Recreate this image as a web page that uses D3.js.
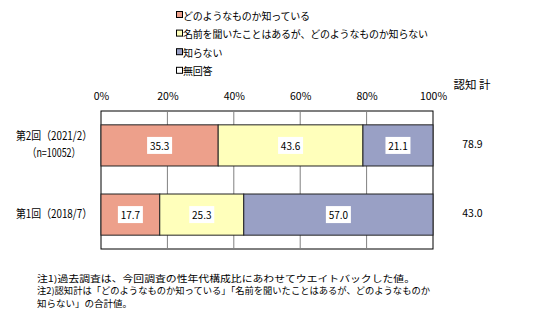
<!DOCTYPE html>
<html><head><meta charset="utf-8">
<script src="https://cdn.jsdelivr.net/npm/d3@7"></script>
<style>body{margin:0;background:#fff}text{font-family:"Noto Sans CJK JP",sans-serif}</style>
</head><body>
<svg id="c" width="542" height="328"></svg>
<script>
const categories = ["第2回（2021/2）|（n=10052）", "第1回（2018/7）"];
const seriesNames = ["どのようなものか知っている", "名前を聞いたことはあるが、どのようなものか知らない", "知らない", "無回答"];
const seriesColors = ["#eda08b", "#ffffbb", "#99a0c5", "#ffffff"];
const knowsWell = [35.3, 17.7];
const heardOnly = [43.6, 25.3];
const dontKnow = [21.1, 57.0];
const noAnswer = [0, 0];
const totals = ["78.9", "43.0"];
const tickVals = [0, 20, 40, 60, 80, 100];
const notes = ["注1)過去調査は、今回調査の性年代構成比にあわせてウエイトバックした値。",
  "注2)認知計は「どのようなものか知っている」「名前を聞いたことはあるが、どのようなものか",
  "知らない」の合計値。"];

const svg = d3.select("#c");
const pL = 101, pR = 433, pT = 111, pB = 249;
const x = d3.scaleLinear().domain([0, 100]).range([pL, pR]);
const y = d3.scaleBand().domain(categories).range([pT, pB]).paddingInner(0.405).paddingOuter(0.2);

// legend
seriesNames.forEach((s, i) => {
  const ly = 15 + i * 18.6;
  svg.append("rect").attr("x", 176.5).attr("y", ly - 3.5).attr("width", 6).attr("height", 6)
    .attr("fill", seriesColors[i]).attr("stroke", "#000").attr("stroke-width", 1);
  svg.append("text").attr("x", 183).attr("y", ly).attr("dominant-baseline", "central")
    .attr("font-size", 10).attr("letter-spacing", -0.2).text(s);
});

// plot border & grid
svg.append("rect").attr("x", pL).attr("y", pT).attr("width", pR - pL).attr("height", pB - pT)
  .attr("fill", "none").attr("stroke", "#000");
svg.selectAll(".grid").data(tickVals.slice(1, -1)).enter().append("line")
  .attr("x1", d => x(d)).attr("x2", d => x(d)).attr("y1", pT).attr("y2", pB)
  .attr("stroke", "#808080");

// axis tick labels
const ax = d3.axisTop(x).tickValues(tickVals).tickFormat(d => d + "%").tickSize(0);
const g = svg.append("g").attr("transform", `translate(0,${pT - 8})`).call(ax);
g.select(".domain").remove();
g.selectAll("text").attr("font-size", 10.5).attr("fill", "#000").attr("font-family", '"Noto Sans CJK JP",sans-serif');

// bars
const series = [knowsWell, heardOnly, dontKnow, noAnswer];
categories.forEach((c, ci) => {
  let acc = 0;
  series.forEach((arr, si) => {
    const v = arr[ci];
    if (v <= 0) return;
    const x0 = x(acc), x1 = x(acc + v);
    svg.append("rect").attr("x", x0).attr("y", y(c)).attr("width", x1 - x0).attr("height", y.bandwidth())
      .attr("fill", seriesColors[si]).attr("stroke", "#222").attr("stroke-width", 1);
    const cx = (x0 + x1) / 2, cy = y(c) + y.bandwidth() / 2;
    svg.append("rect").attr("x", cx - 12.5).attr("y", cy - 8.5).attr("width", 25).attr("height", 17).attr("fill", "#fff");
    svg.append("text").attr("x", cx).attr("y", cy).attr("text-anchor", "middle").attr("dominant-baseline", "central")
      .attr("font-size", 10).text(v.toFixed(1));
    acc += v;
  });
  const parts = c.split("|");
  const cy = y(c) + y.bandwidth() / 2;
  const offs = parts.length === 2 ? [-10, 6.5] : [-1.5];
  parts.forEach((p, pi) => {
    const t = svg.append("text").attr("x", 54).attr("y", cy + offs[pi])
      .attr("text-anchor", "middle").attr("dominant-baseline", "central").attr("font-size", 11.5).text(p);
    t.attr("textLength", pi === 0 ? 76 : 53).attr("lengthAdjust", "spacingAndGlyphs");
  });
  svg.append("text").attr("x", 472.5).attr("y", cy - 2).attr("text-anchor", "middle").attr("dominant-baseline", "central")
    .attr("font-size", 10.5).text(totals[ci]);
});

svg.append("text").attr("x", 472).attr("y", 84).attr("text-anchor", "middle").attr("dominant-baseline", "central")
  .attr("font-size", 11.5).text("認知 計");

const noteY = [278, 290.5, 303];
const noteW = [378, 393, 95];
notes.forEach((n, i) => {
  svg.append("text").attr("x", 37).attr("y", noteY[i]).attr("dominant-baseline", "central")
    .attr("font-size", 9).attr("textLength", noteW[i]).attr("lengthAdjust", "spacingAndGlyphs").text(n);
});
</script>
</body></html>
